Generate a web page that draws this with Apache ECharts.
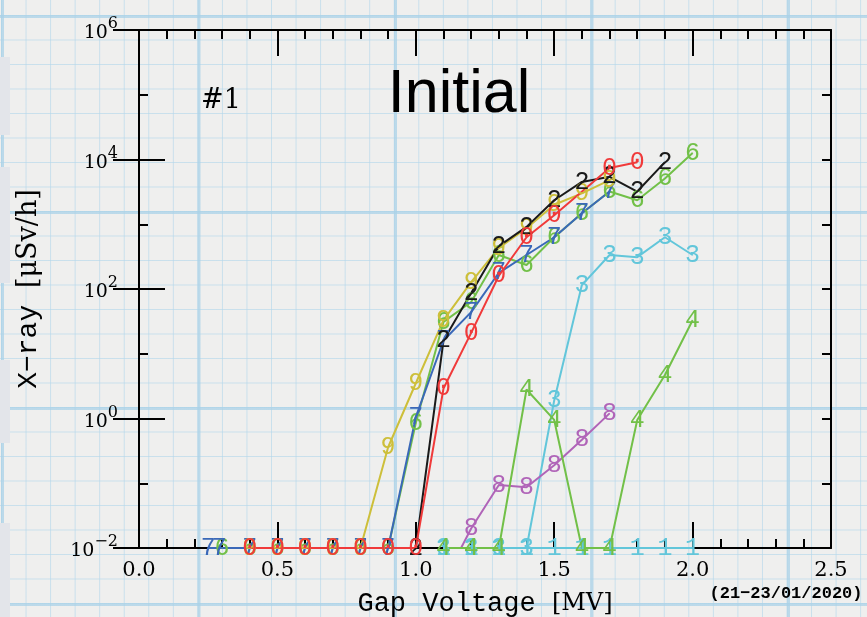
<!DOCTYPE html>
<html>
<head>
<meta charset="utf-8">
<script src="https://cdn.jsdelivr.net/npm/echarts@6.0.0/dist/echarts.min.js"></script>
<style>
  html, body { margin: 0; padding: 0; }
  #main {
    width: 867px;
    height: 617px;
    background-color: #efefee;
    background-image:
      linear-gradient(to right, rgba(170, 210, 232, 0.75) 0, rgba(170, 210, 232, 0.75) 2.5px, transparent 2.5px),
      linear-gradient(to bottom, rgba(170, 210, 232, 0.75) 0, rgba(170, 210, 232, 0.75) 2.5px, transparent 2.5px),
      linear-gradient(to right, rgba(180, 215, 235, 0.65) 0, rgba(180, 215, 235, 0.65) 1.3px, transparent 1.3px),
      linear-gradient(to bottom, rgba(180, 215, 235, 0.65) 0, rgba(180, 215, 235, 0.65) 1.3px, transparent 1.3px);
    background-size: 196.5px 100%, 100% 196px, 24.56px 100%, 100% 24.5px;
    background-position: 1px 0, 0 15px, 1px 0, 0 15px;
  }
</style>
</head>
<body>
<div id="main"></div>
<script>
// 各系列的数据 (电压 MV, X 射线 μSv/h)，0.01 为检测下限
var x0 = [0.4, 0.5, 0.6, 0.7, 0.8, 0.9, 1.0, 1.1, 1.2, 1.3, 1.4, 1.5, 1.7, 1.8];
var y0 = [0.01, 0.01, 0.01, 0.01, 0.01, 0.01, 0.01, 2.9, 21, 160, 630, 1380, 7400, 9100];

var x2 = [1.0, 1.1, 1.2, 1.3, 1.4, 1.5, 1.6, 1.7, 1.8, 1.9];
var y2 = [0.01, 16, 87, 460, 910, 2350, 4500, 5400, 3200, 9100];

var x9 = [0.4, 0.5, 0.6, 0.7, 0.8, 0.9, 1.0, 1.1, 1.2, 1.3, 1.4, 1.5, 1.6, 1.7];
var y9 = [0.01, 0.01, 0.01, 0.01, 0.01, 0.36, 3.5, 33, 128, 430, 870, 2000, 3000, 4800];

var x7 = [0.25, 0.29, 0.4, 0.5, 0.6, 0.7, 0.8, 0.9, 1.0, 1.1, 1.2, 1.3, 1.4, 1.5, 1.6, 1.7];
var y7 = [0.01, 0.01, 0.01, 0.01, 0.01, 0.01, 0.01, 0.01, 1.05, 16, 44, 178, 335, 630, 1480, 3200];

var x6 = [0.3, 0.4, 0.5, 0.6, 0.7, 0.8, 0.9, 1.0, 1.1, 1.2, 1.3, 1.4, 1.5, 1.6, 1.7, 1.8, 1.9, 2.0];
var y6 = [0.01, 0.01, 0.01, 0.01, 0.01, 0.01, 0.01, 0.85, 31, 63, 335, 235, 630, 1480, 3200, 2350, 5100, 12600];

var x3 = [1.1, 1.2, 1.3, 1.4, 1.5, 1.6, 1.7, 1.8, 1.9, 2.0];
var y3 = [0.01, 0.01, 0.01, 0.01, 1.9, 115, 335, 310, 630, 335];

var x4 = [1.1, 1.2, 1.3, 1.4, 1.5, 1.6, 1.7, 1.8, 1.9, 2.0];
var y4 = [0.01, 0.01, 0.01, 2.8, 0.95, 0.01, 0.01, 0.95, 4.7, 33];

var x8 = [1.1, 1.2, 1.3, 1.4, 1.5, 1.6, 1.7];
var y8 = [0.003, 0.02, 0.094, 0.087, 0.19, 0.47, 1.2];

var x1 = [1.1, 1.2, 1.3, 1.4, 1.5, 1.6, 1.7, 1.8, 1.9, 2.0];
var y1 = [0.01, 0.01, 0.01, 0.01, 0.01, 0.01, 0.01, 0.01, 0.01, 0.01];

var myChart = echarts.init(document.getElementById('main'));

function mk(digit, color, xs, ys) {
  return {
    name: digit,
    type: 'line',
    xAxisIndex: 0,
    yAxisIndex: 0,
    data: xs.map(function (x, i) { return [x, ys[i]]; }),
    symbol: 'circle',
    symbolSize: 1,
    itemStyle: { color: color },
    lineStyle: { color: color, width: 2 },
    label: {
      show: true,
      position: 'inside',
      formatter: digit,
      color: color,
      fontFamily: 'Liberation Mono',
      fontSize: 25
    },
    emphasis: { disabled: true }
  };
}

var black = '#000';
var tickBig = { inside: true, length: 26, lineStyle: { color: black, width: 2 } };
var tickSmall = { inside: true, length: 9, lineStyle: { color: black, width: 2 } };

function expLabel(v) {
  var e = Math.round(Math.log10(v));
  if (e % 2 !== 0) return '';
  return '{b|10}{s|' + (e < 0 ? '\u2212' + (-e) : e) + '}';
}

var option = {
  animation: false,
  backgroundColor: 'transparent',
  grid: { left: 139, right: 36, top: 30, bottom: 69, outerBoundsMode: 'none', containLabel: false },
  xAxis: [{
    type: 'value', min: 0, max: 2.5, interval: 0.5, position: 'bottom',
    axisLine: { onZero: false, lineStyle: { color: black, width: 2 } },
    axisTick: tickBig,
    minorTick: { show: true, splitNumber: 5, length: 9, lineStyle: { color: black, width: 2 } },
    splitLine: { show: false },
    axisLabel: {
      formatter: function (v) { return v.toFixed(1); },
      color: black, fontFamily: 'DejaVu Serif', fontSize: 21, margin: 12
    },
    name: '{m|Gap Voltage }{s|[MV]}',
    nameLocation: 'middle',
    nameGap: 42,
    nameTextStyle: {
      color: black,
      rich: {
        m: { fontFamily: 'Liberation Mono', fontSize: 27, color: black },
        s: { fontFamily: 'DejaVu Serif', fontSize: 24, color: black }
      }
    }
  }, {
    type: 'value', min: 0, max: 2.5, interval: 0.5, position: 'top',
    axisLine: { onZero: false, lineStyle: { color: black, width: 2 } },
    axisTick: tickBig,
    minorTick: { show: true, splitNumber: 5, length: 9, lineStyle: { color: black, width: 2 } },
    splitLine: { show: false },
    axisLabel: { show: false }
  }],
  yAxis: [{
    type: 'log', logBase: 10, min: 0.01, max: 1e6, position: 'left',
    axisLine: { onZero: false, lineStyle: { color: black, width: 2 } },
    axisTick: tickSmall,
    splitLine: { show: false },
    axisLabel: {
      formatter: expLabel,
      margin: 21,
      color: black,
      rich: {
        b: { fontFamily: 'DejaVu Serif', fontSize: 19, color: black, lineHeight: 30, verticalAlign: 'bottom', padding: [0, 0, 2, 0] },
        s: { fontFamily: 'DejaVu Serif', fontSize: 16, color: black, lineHeight: 30, verticalAlign: 'top', padding: [1, 0, 0, 0] }
      }
    },
    name: '{m|X\u2212ray }{s|[\u03bcSv/h]}',
    nameLocation: 'middle',
    nameGap: 96,
    nameTextStyle: {
      color: black,
      rich: {
        m: { fontFamily: 'Liberation Mono', fontSize: 28, color: black },
        s: { fontFamily: 'DejaVu Serif', fontSize: 27, color: black }
      }
    }
  }, {
    // 偶数次幂的长刻度
    type: 'value', min: -2, max: 6, interval: 2, position: 'left',
    axisLine: { show: false },
    axisTick: tickBig,
    splitLine: { show: false },
    axisLabel: { show: false }
  }, {
    type: 'log', logBase: 10, min: 0.01, max: 1e6, position: 'right',
    axisLine: { onZero: false, lineStyle: { color: black, width: 2 } },
    axisTick: tickSmall,
    splitLine: { show: false },
    axisLabel: { show: false }
  }, {
    type: 'value', min: -2, max: 6, interval: 2, position: 'right',
    axisLine: { show: false },
    axisTick: tickBig,
    splitLine: { show: false },
    axisLabel: { show: false }
  }],
  graphic: [
    { type: 'rect', shape: { x: 0, y: 57, width: 10, height: 78 }, style: { fill: '#e3e5ea' } },
    { type: 'rect', shape: { x: 0, y: 167, width: 10, height: 116 }, style: { fill: '#e3e5ea' } },
    { type: 'rect', shape: { x: 0, y: 360, width: 10, height: 83 }, style: { fill: '#e3e5ea' } },
    { type: 'rect', shape: { x: 0, y: 523, width: 10, height: 94 }, style: { fill: '#e3e5ea' } },
    {
      type: 'text', x: 459, y: 95,
      style: { text: 'Initial', font: '61px "Liberation Sans"', fill: black, textAlign: 'center', textVerticalAlign: 'middle' }
    },
    {
      type: 'text', x: 221, y: 101,
      style: { text: '#1', font: '27px "DejaVu Serif"', fill: black, textAlign: 'center', textVerticalAlign: 'middle' }
    },
    {
      type: 'text', x: 786, y: 594,
      style: { text: '(21\u221223/01/2020)', font: 'bold 17px "Liberation Mono"', fill: black, textAlign: 'center', textVerticalAlign: 'middle' }
    }
  ],
  series: [
    mk('1', '#62c6da', x1, y1),
    mk('3', '#62c6da', x3, y3),
    mk('8', '#b064b8', x8, y8),
    mk('4', '#72c048', x4, y4),
    mk('6', '#72c048', x6, y6),
    mk('7', '#3a68b8', x7, y7),
    mk('9', '#cdbf3a', x9, y9),
    mk('2', '#1a1a1a', x2, y2),
    mk('0', '#f03a3a', x0, y0)
  ]
};

myChart.setOption(option);
</script>
</body>
</html>
